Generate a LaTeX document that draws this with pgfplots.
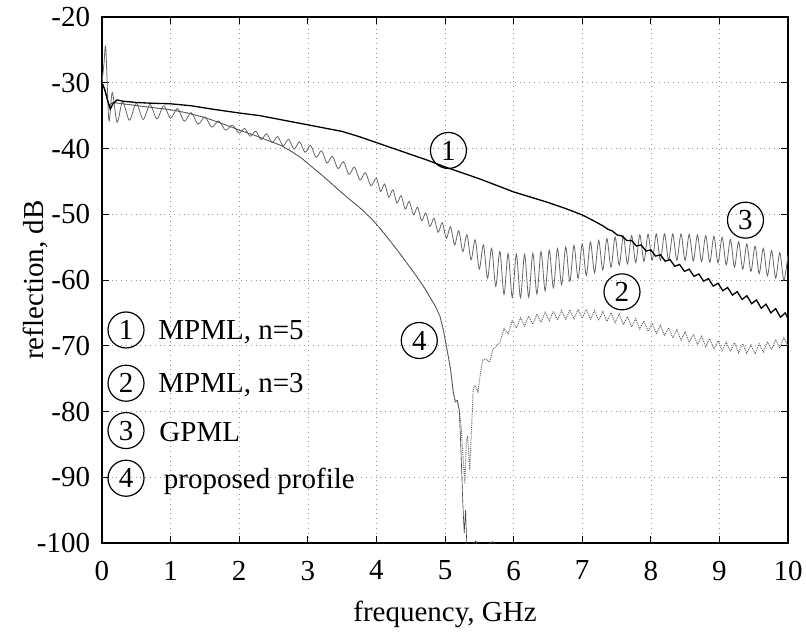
\documentclass[border=0pt]{standalone}
\usepackage{pgfplots}
\pgfplotsset{compat=1.18}
\usepackage{fontspec}
\setmainfont{Liberation Serif}
\begin{document}
\fontsize{29}{34}\selectfont
\begin{tikzpicture}[font=\fontsize{29}{34}\selectfont]
\begin{axis}[
  at={(0,0)}, anchor=south west,
  width=686pt, height=526pt, scale only axis,
  xmin=0, xmax=10, ymin=-100, ymax=-20,
  xtick={0,1,...,10}, ytick={-100,-90,...,-20},
  tick align=inside, major tick length=7pt,
  /pgf/number format/assume math mode=true,
  tick label style={font=\fontsize{29}{34}\selectfont},
  xticklabel style={yshift=-8pt},
  yticklabel style={xshift=-2pt},
  grid=major,
  major grid style={gray!80, line width=0.6pt, dash pattern=on 0.8pt off 4pt},
  axis line style={line width=1.2pt},
  tick style={black, line width=1pt},
  xlabel={frequency, GHz}, ylabel={reflection, dB},
  every axis x label/.style={at={(axis description cs:0.5,-0.15)}, anchor=base},
  every axis y label/.style={at={(axis description cs:-0.086,0.5)}, rotate=90, anchor=base},
]
% curve 3: GPML
\addplot[black!60, line width=0.8pt, smooth, tension=0.5] coordinates {
(0,-30)(0.03,-27)(0.055,-24.7)(0.1,-35.7)(0.15,-31.5)(0.22,-36)
(0.3,-32.9)(0.4,-35.7)(0.5,-33.1)(0.6,-35.6)(0.7,-33.3)(0.8,-35.5)(0.9,-33.5)(1.0,-35.4)
(1.1,-33.9)(1.2,-35.85)(1.3,-34.55)(1.4,-36.3)(1.5,-35.2)(1.6,-36.75)(1.7,-35.8)(1.8,-37.2)(1.9,-36.45)(2.0,-37.65)
(2.08,-36.95)(2.16,-38.14)(2.24,-37.36)(2.32,-38.63)(2.40,-37.77)(2.48,-39.11)(2.56,-38.18)(2.64,-39.60)
(2.72,-38.59)(2.80,-40.09)(2.88,-38.99)(2.96,-40.58)(3.04,-39.51)(3.12,-41.35)(3.20,-40.34)(3.28,-42.21)
(3.36,-41.17)(3.44,-43.07)(3.52,-42.01)(3.60,-43.94)(3.68,-42.83)(3.76,-44.81)(3.84,-43.67)(3.92,-45.67)(4.00,-44.5)
(4.06,-46.54)(4.12,-45.39)(4.18,-47.43)(4.24,-46.27)(4.30,-48.31)(4.36,-47.16)(4.42,-49.20)(4.48,-48.04)
(4.54,-50.08)(4.60,-48.93)(4.66,-50.97)(4.72,-49.81)(4.78,-51.85)(4.84,-50.62)(4.90,-52.75)(4.96,-51.28)
(5.02,-53.66)(5.08,-51.90)(5.14,-54.66)(5.20,-52.50)(5.26,-55.66)(5.32,-53.13)(5.38,-56.93)(5.44,-53.89)
(5.50,-58.33)(5.56,-54.65)(5.62,-59.71)(5.68,-55.19)(5.74,-60.95)(5.80,-55.63)(5.86,-62.19)(5.92,-56.01)
(5.98,-62.63)(6.04,-56.05)(6.10,-62.67)(6.16,-56.09)(6.22,-62.62)(6.28,-55.94)(6.34,-62.14)(6.40,-55.7)
(6.46,-61.66)(6.52,-55.46)(6.58,-61.18)(6.64,-55.22)(6.70,-60.7)(6.76,-54.98)(6.82,-60.22)(6.88,-54.74)
(6.94,-59.74)(7.00,-54.5)(7.06,-59.29)(7.12,-54.23)(7.18,-58.89)(7.24,-53.97)(7.30,-58.48)(7.36,-53.71)
(7.42,-58.07)(7.48,-53.45)(7.54,-57.73)(7.60,-53.32)(7.66,-57.55)(7.72,-53.23)(7.78,-57.35)(7.84,-53.13)
(7.90,-57.16)(7.96,-53.03)(8.02,-57.0)(8.08,-53.0)(8.14,-57.0)(8.20,-53.0)(8.26,-57.0)(8.32,-53.0)
(8.38,-57.0)(8.44,-53.0)(8.50,-57.0)(8.56,-53.05)(8.62,-57.1)(8.68,-53.14)(8.74,-57.19)(8.80,-53.24)
(8.86,-57.29)(8.92,-53.34)(8.98,-57.38)(9.04,-53.51)(9.10,-57.68)(9.16,-53.85)(9.22,-58.02)(9.28,-54.18)
(9.34,-58.35)(9.40,-54.52)(9.46,-58.69)(9.52,-54.86)(9.58,-59.02)(9.64,-55.19)(9.70,-59.36)(9.76,-55.53)
(9.82,-59.7)(9.88,-55.86)(9.94,-60.03)(10.0,-56.2)
};
% curve 4: proposed profile
\addplot[black!75, line width=0.6pt] coordinates {
(0,-30)(0.05,-31.5)(0.1,-33.5)(0.15,-33.0)(0.3,-33.2)(0.6,-33.6)(1.0,-34.1)(1.25,-34.6)(1.5,-35.3)(1.75,-36.2)(2.0,-37.2)
(2.2,-37.9)(2.4,-38.7)(2.6,-39.5)(2.74,-40.3)(2.9,-41.4)(3.05,-42.7)(3.2,-44.0)(3.32,-45.1)(3.45,-46.3)(3.57,-47.4)
(3.7,-48.5)(3.8,-49.4)(3.93,-50.7)(4.05,-52.1)(4.18,-53.8)(4.3,-55.4)(4.45,-57.5)
(4.59,-59.5)(4.7,-61.2)(4.78,-62.6)(4.86,-64)(4.93,-65.6)(4.98,-67.8)(5.03,-70.6)(5.08,-73.5)(5.12,-77.0)
(5.15,-78.5)(5.18,-78.3)(5.21,-80)(5.24,-88)(5.26,-94)(5.28,-98.5)(5.30,-95)(5.32,-101)(5.45,-99.7)
(5.5,-101)(5.7,-99.8)(5.8,-101)(6.2,-102)
};
% curve 2: MPML n=3
\addplot[black!65, line width=0.9pt, densely dotted] coordinates {
(0,-30)(0.05,-31.5)(0.1,-33.5)(0.15,-33.0)(0.3,-33.2)(0.6,-33.6)(1.0,-34.1)(1.25,-34.6)(1.5,-35.3)(1.75,-36.2)(2.0,-37.2)
(2.2,-37.9)(2.4,-38.7)(2.6,-39.5)(2.74,-40.3)(2.9,-41.4)(3.05,-42.7)(3.2,-44.0)(3.32,-45.1)(3.45,-46.3)(3.57,-47.4)
(3.7,-48.5)(3.8,-49.4)(3.93,-50.7)(4.05,-52.1)(4.18,-53.8)(4.3,-55.4)(4.45,-57.5)
(4.59,-59.5)(4.7,-61.2)(4.78,-62.6)(4.86,-64)(4.93,-65.6)(4.98,-67.8)(5.03,-70.6)(5.08,-73.5)(5.12,-77.0)
(5.15,-78.5)(5.18,-78.3)(5.21,-80)(5.24,-82.8)(5.27,-88)(5.29,-91)(5.31,-84.5)(5.33,-83.9)(5.36,-88.9)
(5.39,-82)(5.41,-76.7)(5.44,-76)(5.48,-77)(5.52,-74)(5.55,-72.2)(5.6,-72.0)(5.65,-72.5)(5.7,-70.5)
(5.76,-69.9)(5.8,-69.5)
(5.86,-67.4)(5.92,-68.2)(5.98,-66.2)(6.04,-67.30)(6.10,-65.76)(6.16,-67.02)(6.22,-65.47)(6.28,-66.73)
(6.34,-65.18)(6.40,-66.44)(6.46,-64.90)(6.52,-66.18)(6.58,-64.74)(6.64,-66.09)(6.70,-64.64)(6.76,-65.99)
(6.82,-64.54)(6.88,-65.90)(6.94,-64.45)(7.00,-65.80)(7.06,-64.48)(7.12,-65.97)(7.18,-64.65)(7.24,-66.14)
(7.30,-64.82)(7.36,-66.30)(7.42,-64.99)(7.48,-66.47)(7.54,-65.21)(7.60,-66.78)(7.66,-65.55)(7.72,-67.12)
(7.78,-65.88)(7.84,-67.45)(7.90,-66.22)(7.96,-67.79)(8.02,-66.56)(8.08,-68.12)(8.14,-66.89)(8.20,-68.46)
(8.26,-67.23)(8.32,-68.80)(8.38,-67.56)(8.44,-69.13)(8.50,-67.90)(8.56,-69.47)(8.62,-68.24)(8.68,-69.80)
(8.74,-68.57)(8.80,-70.14)(8.86,-68.91)(8.92,-70.48)(8.98,-69.24)(9.04,-70.75)(9.10,-69.42)(9.16,-70.89)
(9.22,-69.56)(9.28,-71.04)(9.34,-69.71)(9.40,-71.18)(9.46,-69.85)(9.52,-71.25)(9.58,-69.69)(9.64,-70.94)
(9.70,-69.38)(9.76,-70.62)(9.82,-69.07)(9.88,-70.31)(9.94,-68.76)(10.0,-70.0)
};
% curve 1: MPML n=5
\addplot[black, line width=1.3pt] coordinates {
(0,-30)(0.04,-31)(0.08,-32.6)(0.12,-34)(0.16,-33.2)(0.22,-32.6)(0.3,-32.8)(0.5,-33.0)(0.7,-33.1)
(1.0,-33.2)(1.3,-33.5)(1.6,-34.0)(2.0,-34.6)(2.3,-35.0)(2.6,-35.6)(2.8,-36.0)(3.0,-36.4)(3.25,-36.9)(3.5,-37.4)
(3.75,-38.2)(4.0,-39.1)(4.25,-40.0)(4.5,-40.9)(4.75,-41.8)(5.0,-42.8)(5.25,-43.7)(5.5,-44.6)(5.75,-45.6)(6.0,-46.6)
(6.25,-47.4)(6.5,-48.2)(6.75,-49.1)(7.0,-50.1)(7.15,-50.9)
(7.30,-51.75)(7.37,-52.25)(7.44,-52.55)(7.51,-53.15)(7.58,-53.30)(7.65,-54.00)(7.72,-53.98)(7.79,-54.83)
(7.86,-54.67)(7.93,-55.59)(8.00,-55.42)(8.07,-56.37)(8.14,-56.16)(8.21,-57.14)(8.28,-56.90)(8.35,-57.91)
(8.42,-57.64)(8.49,-58.69)(8.56,-58.36)(8.63,-59.44)(8.70,-59.08)(8.77,-60.17)(8.84,-59.79)(8.91,-60.92)
(8.98,-60.50)(9.05,-61.63)(9.12,-61.14)(9.19,-62.29)(9.26,-61.77)(9.33,-62.96)(9.40,-62.39)(9.47,-63.61)
(9.54,-63.03)(9.61,-64.30)(9.68,-63.68)(9.75,-64.99)(9.82,-64.35)(9.89,-65.67)(9.96,-65.00)(10.0,-65.9)
};
% circled labels on the curves
\tikzset{cl/.style={circle, draw, line width=1.2pt, minimum size=36pt, inner sep=0pt}}
\node[cl] at (axis cs:5.05,-40.3) {1};
\node[cl] at (axis cs:7.58,-61.8) {2};
\node[cl] at (axis cs:9.38,-50.9) {3};
\node[cl] at (axis cs:4.625,-69.2) {4};
% key
\node[cl] at (axis cs:0.35,-67.6) {1};
\node[cl] at (axis cs:0.35,-75.7) {2};
\node[cl] at (axis cs:0.35,-82.9) {3};
\node[cl] at (axis cs:0.35,-90.15) {4};
\node[anchor=base west, inner sep=0pt, yshift=-10pt] at (axis cs:0.82,-67.6) {MPML, n=5};
\node[anchor=base west, inner sep=0pt, yshift=-9pt] at (axis cs:0.82,-75.7) {MPML, n=3};
\node[anchor=base west, inner sep=0pt, yshift=-10.5pt] at (axis cs:0.835,-82.9) {GPML};
\node[anchor=base west, inner sep=0pt, yshift=-10pt] at (axis cs:0.90,-90.15) {proposed profile};
\end{axis}
\pgfresetboundingbox
\path[use as bounding box] (-102pt,-89pt) rectangle (704pt,543pt);
\end{tikzpicture}
\end{document}
